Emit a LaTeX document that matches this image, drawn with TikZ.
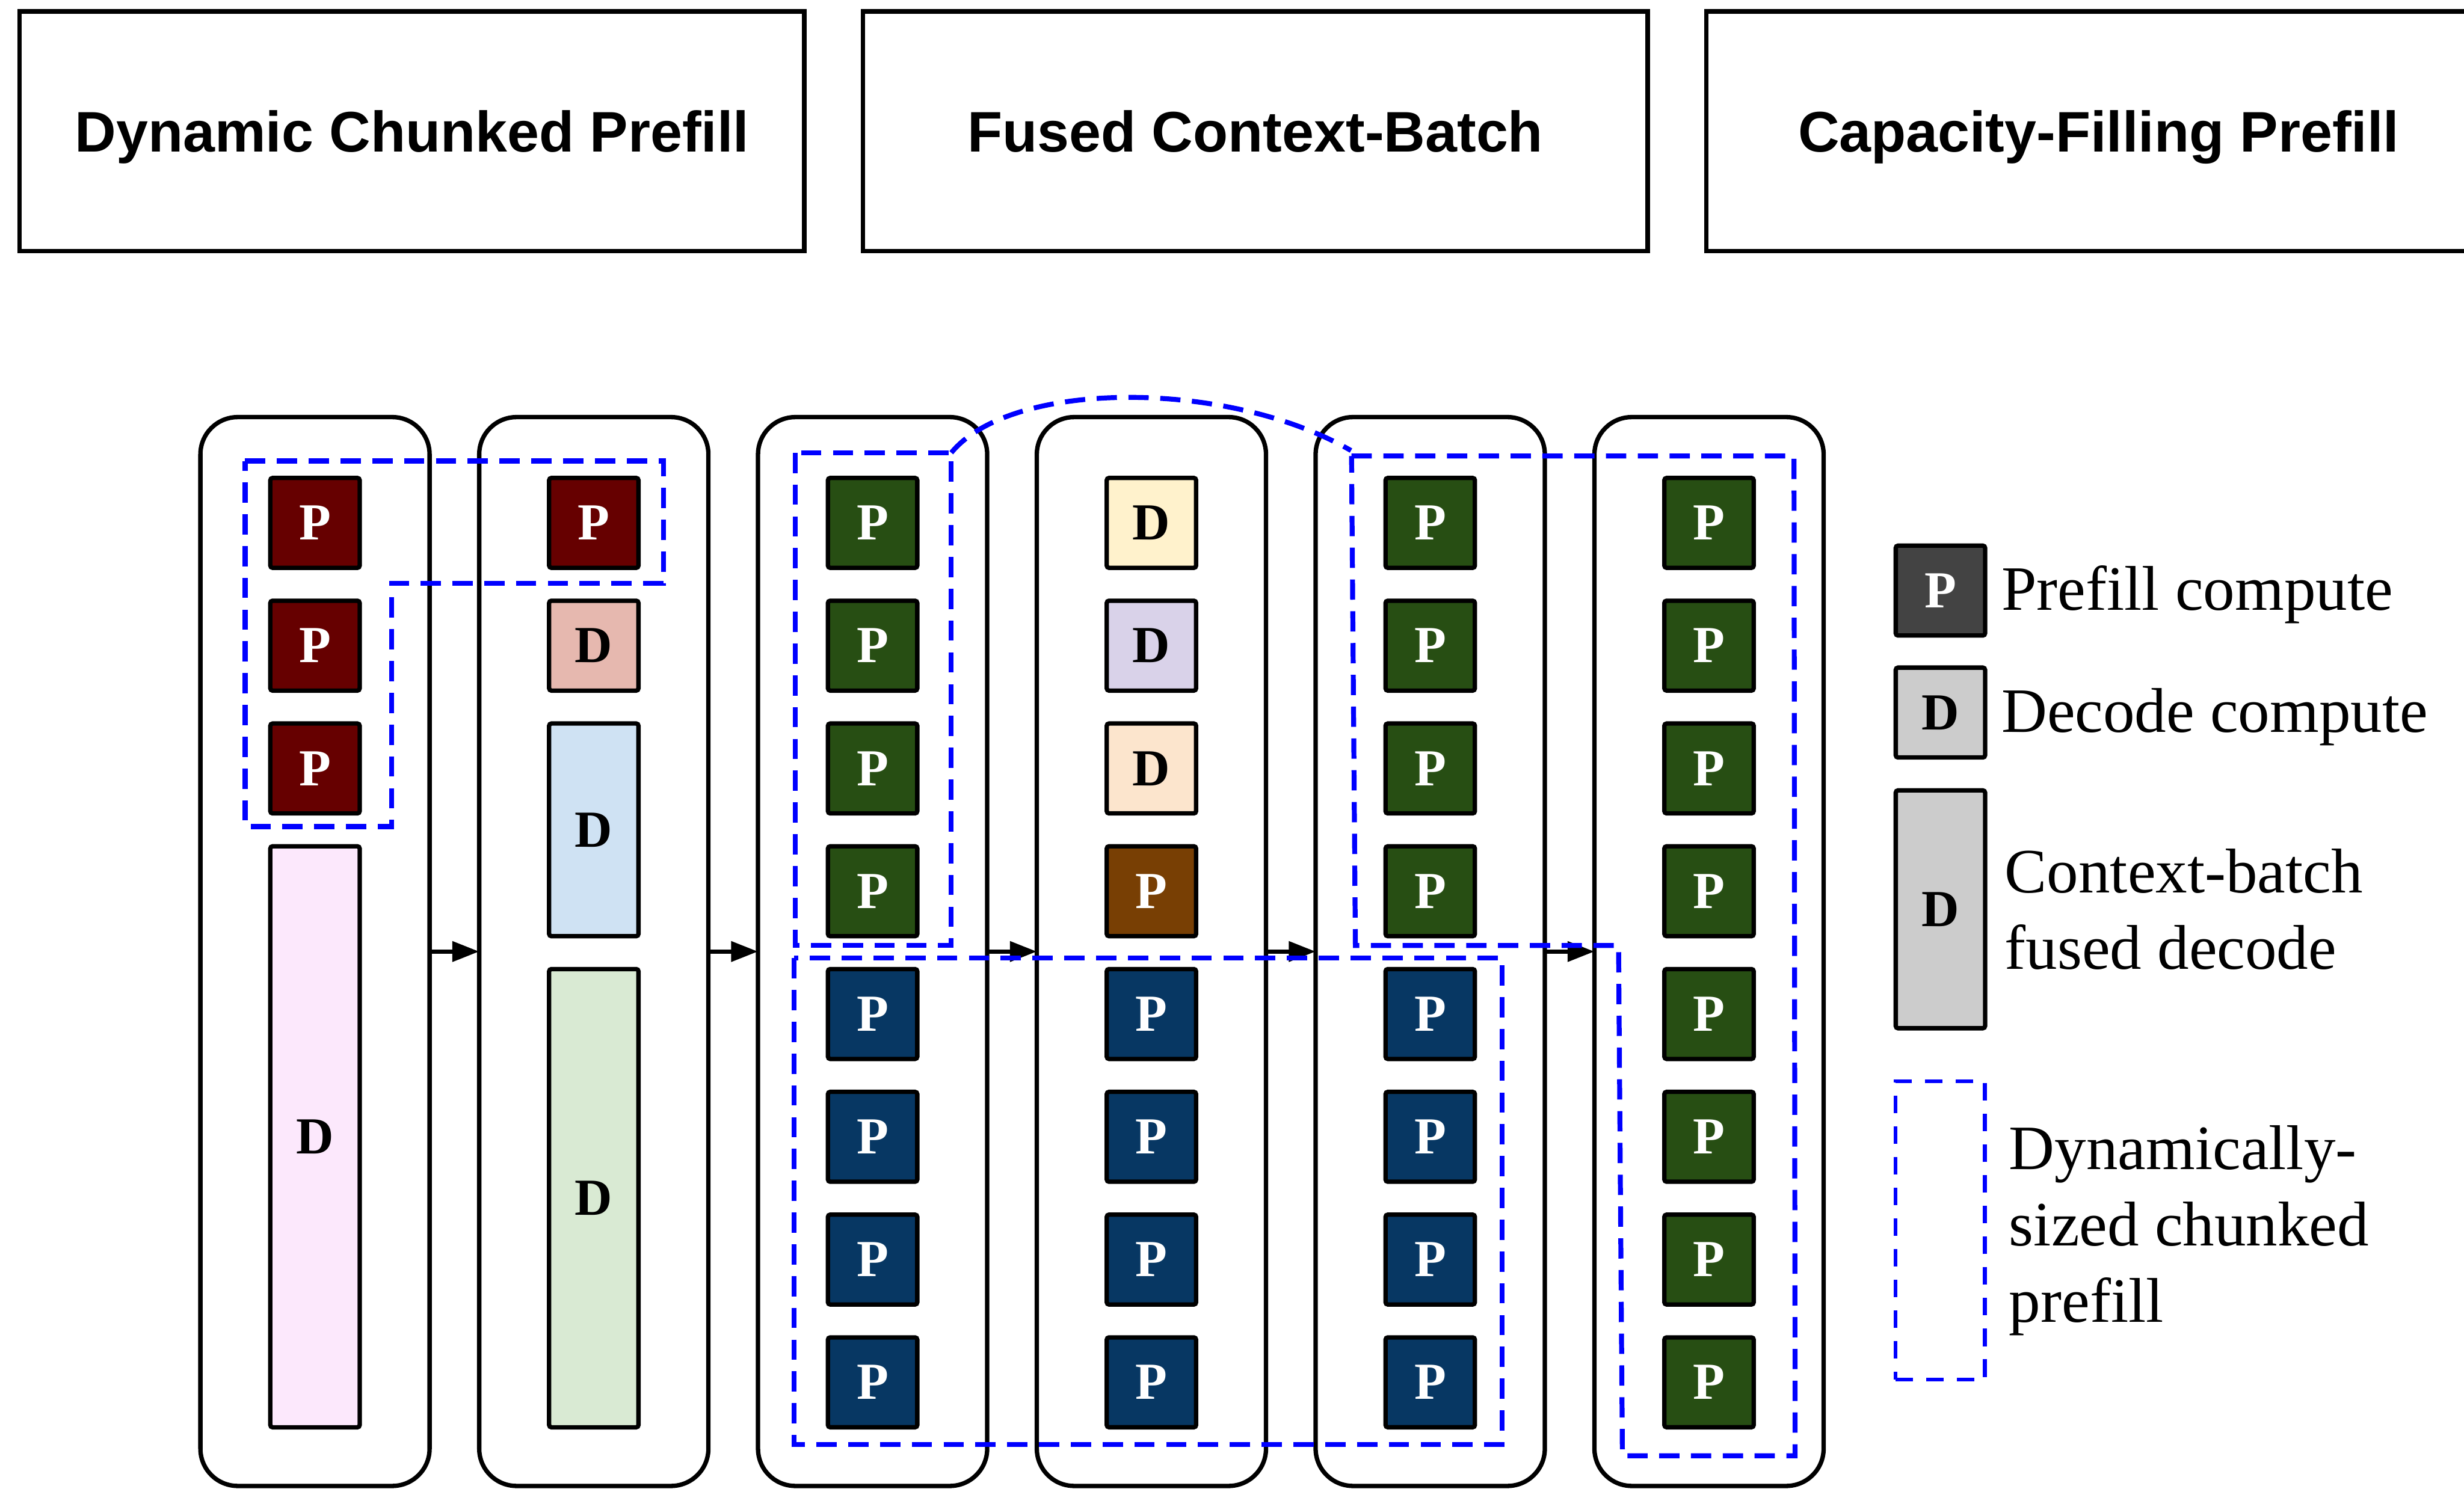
\documentclass[tikz,border=0pt]{standalone}
\usepackage{fontspec}
\setmainfont{Liberation Serif}
\newfontfamily\phasefont{Liberation Sans}
\usetikzlibrary{arrows.meta,positioning}

% block colours
\definecolor{predp}{HTML}{660000}
\definecolor{greenp}{HTML}{274E13}
\definecolor{navyp}{HTML}{073763}
\definecolor{brownp}{HTML}{783F04}
\definecolor{greyp}{HTML}{434343}
\definecolor{greyd}{HTML}{CCCCCC}
\definecolor{rosed}{HTML}{E6B8AF}
\definecolor{skyd}{HTML}{CFE2F3}
\definecolor{mintd}{HTML}{D9EAD3}
\definecolor{lemond}{HTML}{FFF2CC}
\definecolor{lilacd}{HTML}{D9D2E9}
\definecolor{peachd}{HTML}{FCE5CD}
\definecolor{pinkd}{HTML}{FCE8FC}
\definecolor{chunkblue}{HTML}{0000FF}

\tikzset{
  phase/.style={draw, line width=0.04cm, outer sep=0pt, minimum width=7.155cm,
    minimum height=2.185cm, text height=10.7pt, text depth=0pt,
    font=\phasefont\bfseries\fontsize{14.85}{16}\selectfont},
  lane/.style={draw, line width=0.04cm, outer sep=0pt, rounded corners=0.34cm,
    minimum width=2.09cm, minimum height=9.75cm},
  blk/.style={draw, line width=0.04cm, outer sep=0pt, rounded corners=0.6pt,
    inner sep=0pt, minimum width=0.815cm, minimum height=0.82cm,
    font=\bfseries\fontsize{13.5}{14}\selectfont},
  pblk/.style={blk, fill=#1, text=white},
  dblk/.style={blk, fill=#1},
  chunk/.style={draw=chunkblue, line width=0.045cm, dash pattern=on 0.185cm off 0.105cm},
  flow/.style={-{Triangle[length=2.45mm, width=1.8mm]}, line width=0.04cm},
  legtext/.style={inner sep=0pt, align=left, font=\fontsize{16.4}{19.8}\selectfont},
}

\begin{document}
\begin{tikzpicture}[x=1cm, y=1cm]
    \useasboundingbox (0,0) rectangle (22.47,-13.58);

    % Phase headers
    \node[phase] (ph1) at (3.7575,-1.1975) {Dynamic Chunked Prefill};
    \node[phase, right=0.535cm of ph1] (ph2) {Fused Context-Batch};
    \node[phase, right=0.535cm of ph2] (ph3) {Capacity-Filling Prefill};

    % Iteration lanes and the steps between them
    \foreach \i in {1,...,6}
        \node[lane] (l\i) at ({2.8725+2.5425*(\i-1)},-8.68) {};
    \foreach \i [count=\j from 2] in {1,...,5}
        \draw[flow] (l\i.east) -- (l\j.west);

    % Lane 1
    \foreach \k in {0,1,2}
        \node[pblk=predp] (b1-\k) at (l1 |- 0,{-4.77-1.12*\k}) {P};
    \node[dblk=pinkd, minimum height=5.3cm] (b1-3) at (l1 |- 0,-10.37) {D};

    % Lane 2
    \node[pblk=predp] (b2-0) at (l2 |- 0,-4.77) {P};
    \node[dblk=rosed] (b2-1) at (l2 |- 0,-5.89) {D};
    \node[dblk=skyd, minimum height=1.94cm] (b2-2) at (l2 |- 0,-7.57) {D};
    \node[dblk=mintd, minimum height=4.18cm] (b2-3) at (l2 |- 0,-10.93) {D};

    % Lanes 3 and 5
    \foreach \i in {3,5} {
        \foreach \k in {0,...,3}
            \node[pblk=greenp] (b\i-\k) at (l\i |- 0,{-4.77-1.12*\k}) {P};
        \foreach \k in {4,...,7}
            \node[pblk=navyp] (b\i-\k) at (l\i |- 0,{-4.77-1.12*\k}) {P};
    }

    % Lane 4
    \foreach \k/\c in {0/lemond,1/lilacd,2/peachd}
        \node[dblk=\c] (b4-\k) at (l4 |- 0,{-4.77-1.12*\k}) {D};
    \node[pblk=brownp] (b4-3) at (l4 |- 0,-8.13) {P};
    \foreach \k in {4,...,7}
        \node[pblk=navyp] (b4-\k) at (l4 |- 0,{-4.77-1.12*\k}) {P};

    % Lane 6
    \foreach \k in {0,...,7}
        \node[pblk=greenp] (b6-\k) at (l6 |- 0,{-4.77-1.12*\k}) {P};

    % Chunk outlines
    \draw[chunk] (2.235,-4.205) -- (6.05,-4.205) -- (6.05,-5.32) -- (3.57,-5.32)
        -- (3.57,-7.54) -- (2.235,-7.54) -- cycle;
    \draw[chunk] (7.25,-4.13) rectangle (8.675,-8.625);
    \draw[chunk] (8.675,-4.13) .. controls (9.225,-3.46) and (11.195,-3.46) .. (12.32,-4.11);
    \draw[chunk] (12.325,-4.16) -- (16.36,-4.16) -- (16.37,-13.28) -- (14.795,-13.28)
        -- (14.76,-8.625) -- (12.36,-8.625) -- cycle;
    \draw[chunk] (7.24,-8.74) rectangle (13.7,-13.175);

    % Legend
    \node[pblk=greyp] (keyP) at (17.695,-5.3875) {P};
    \node[dblk=greyd] (keyD) at (17.695,-6.5) {D};
    \node[dblk=greyd, minimum height=2.17cm] (keyC) at (17.695,-8.295) {D};
    \node[draw=chunkblue, line width=0.035cm, dash pattern=on 0.16cm off 0.12cm,
        outer sep=0pt, minimum width=0.815cm, minimum height=2.72cm] (keyS) at (17.6925,-11.225) {};

    \node[legtext, anchor=base west] (txtP) at (18.245,-5.5675) {Prefill compute};
    \node[legtext, anchor=base west] (txtD) at (18.245,-6.68) {Decode compute};
    \node[legtext, anchor=west] (txtC) at (18.275,-8.295) {Context-batch\\fused decode};
    \node[legtext, anchor=west] (txtS) at (18.315,-11.225) {Dynamically-\\sized chunked\\prefill};
\end{tikzpicture}
\end{document}
